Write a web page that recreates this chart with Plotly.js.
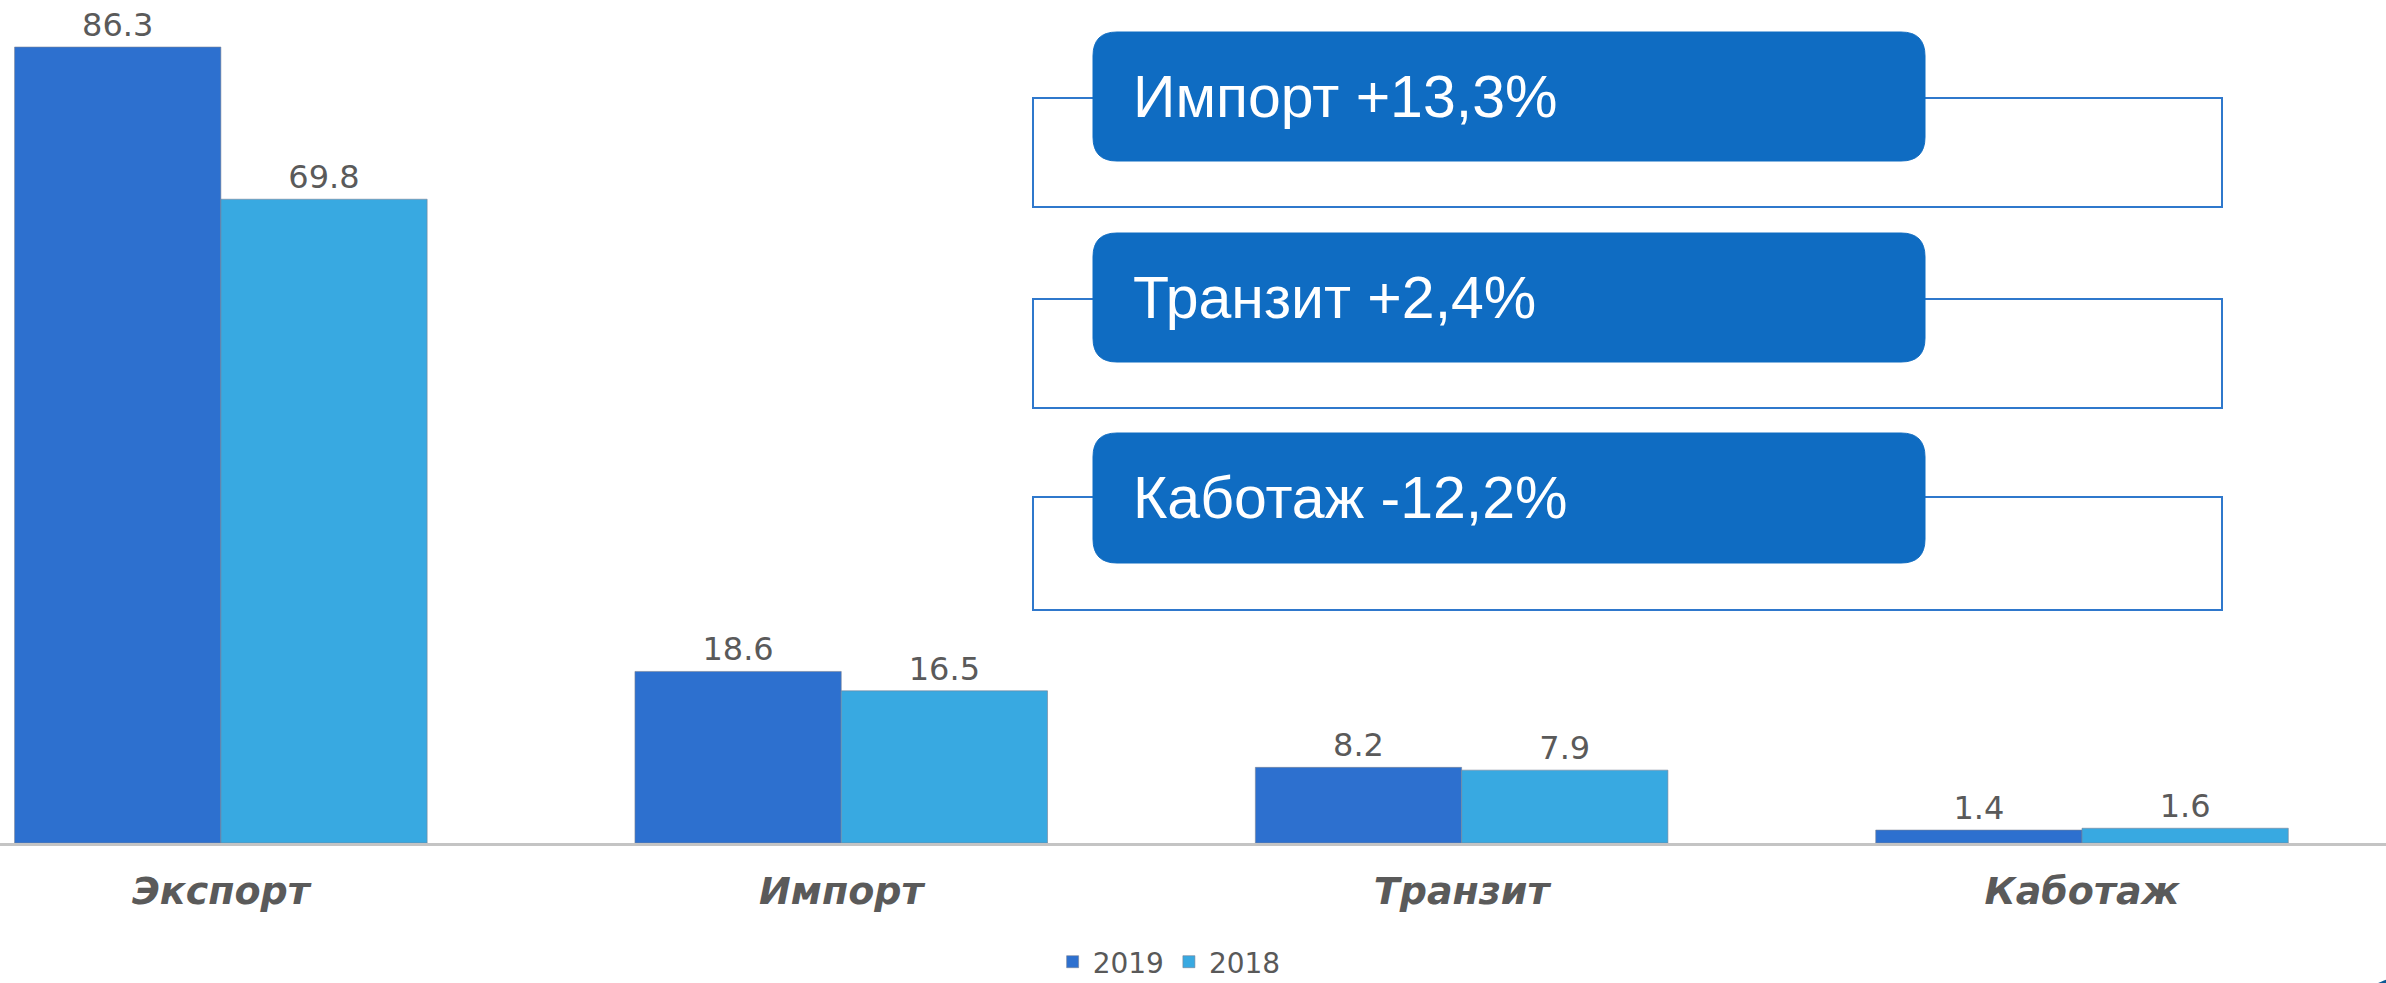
<!DOCTYPE html>
<html>
<head>
<meta charset="utf-8">
<script src="https://cdn.plot.ly/plotly-3.0.1.min.js"></script>
<style>html,body{margin:0;padding:0;background:#fff;}#chart{width:2386px;height:983px;}</style>
</head>
<body>
<div id="chart"></div>
<script>
// ---- data ----
const categories = ["Экспорт", "Импорт", "Транзит", "Каботаж"];
const values2019 = [86.3, 18.6, 8.2, 1.4];
const values2018 = [69.8, 16.5, 7.9, 1.6];
const seriesNames = ["2019", "2018"];
const boxLabels = ["Импорт +13,3%", "Транзит +2,4%", "Каботаж -12,2%"];

// ---- layout helpers (pixel -> paper) ----
const W = 2386, H = 983, PLOT_BOTTOM = 843;
const px = x => x / W;
const py = y => (PLOT_BOTTOM - y) / PLOT_BOTTOM;

function roundRect(x0, y0, x1, y1, r) {
  const X0 = px(x0), X1 = px(x1), Y0 = py(y0), Y1 = py(y1);
  const rx = r / W, ry = r / PLOT_BOTTOM;
  return `M${X0 + rx},${Y0} L${X1 - rx},${Y0} Q${X1},${Y0} ${X1},${Y0 - ry} ` +
         `L${X1},${Y1 + ry} Q${X1},${Y1} ${X1 - rx},${Y1} L${X0 + rx},${Y1} ` +
         `Q${X0},${Y1} ${X0},${Y1 + ry} L${X0},${Y0 - ry} Q${X0},${Y0} ${X0 + rx},${Y0} Z`;
}

const outerBoxes = [[98, 207], [299, 408], [497, 610]];
const innerBoxes = [[32, 161], [233, 362], [433, 563]];

const shapes = [];
const annotations = [];
outerBoxes.forEach((b, i) => {
  shapes.push({type: 'rect', xref: 'paper', yref: 'paper',
    x0: px(1033), x1: px(2222), y0: py(b[0]), y1: py(b[1]),
    line: {color: '#2f78cc', width: 2}, fillcolor: '#ffffff', layer: 'above'});
  const ib = innerBoxes[i];
  shapes.push({type: 'path', xref: 'paper', yref: 'paper',
    path: roundRect(1093, ib[0], 1925, ib[1], 24),
    line: {color: '#0f6cc2', width: 1}, fillcolor: '#0f6cc2', layer: 'above'});
  annotations.push({xref: 'paper', yref: 'paper', x: px(1131), y: py((ib[0] + ib[1]) / 2),
    xanchor: 'left', yanchor: 'middle', showarrow: false, text: boxLabels[i],
    font: {family: 'Liberation Sans, Arial, sans-serif', size: 59, color: '#ffffff'}});
});
// logo fragment bottom right
shapes.push({type: 'circle', xref: 'paper', yref: 'paper',
  x0: px(2320), x1: px(2520), y0: py(974), y1: py(1170),
  line: {width: 0}, fillcolor: '#0d5a94', layer: 'above'});

const labelFont = {family: 'DejaVu Sans, Verdana, sans-serif', size: 32, color: '#5a5a5a'};

const data = [
  {type: 'bar', name: seriesNames[0], x: categories, y: values2019,
   marker: {color: '#2d70cf', line: {color: 'rgba(120,130,150,0.6)', width: 1}},
   text: values2019.map(v => v.toFixed(1)), textposition: 'outside', cliponaxis: false,
   textfont: labelFont, hoverinfo: 'x+y'},
  {type: 'bar', name: seriesNames[1], x: categories, y: values2018,
   marker: {color: '#38a9e1', line: {color: 'rgba(120,130,150,0.6)', width: 1}},
   text: values2018.map(v => v.toFixed(1)), textposition: 'outside', cliponaxis: false,
   textfont: labelFont, hoverinfo: 'x+y'}
];

const layout = {
  width: W, height: H,
  margin: {l: 0, r: 0, t: 0, b: H - PLOT_BOTTOM, pad: 0, autoexpand: false},
  paper_bgcolor: '#ffffff', plot_bgcolor: '#ffffff',
  barmode: 'group', bargap: 0.335, bargroupgap: 0,
  xaxis: {type: 'category', range: [-0.356, 3.49], showgrid: false, zeroline: false,
    showline: true, linecolor: '#c4c4c4', linewidth: 3, automargin: false,
    ticks: 'outside', ticklen: 12, tickcolor: 'rgba(0,0,0,0)',
    tickfont: {family: 'DejaVu Sans, Verdana, sans-serif', size: 38, color: '#5a5a5a', weight: 'bold', style: 'italic'}},
  yaxis: {range: [0, 91.4], visible: false, showgrid: false, zeroline: false},
  showlegend: true,
  legend: {orientation: 'h', x: 0.49, xanchor: 'center', y: py(962), yanchor: 'middle',
    font: {family: 'DejaVu Sans, Verdana, sans-serif', size: 28, color: '#595959'},
    itemwidth: 30, tracegroupgap: 0, borderwidth: 0, bgcolor: 'rgba(0,0,0,0)'},
  shapes: shapes,
  annotations: annotations
};

Plotly.newPlot('chart', data, layout, {displayModeBar: false, staticPlot: true});
</script>
</body>
</html>
